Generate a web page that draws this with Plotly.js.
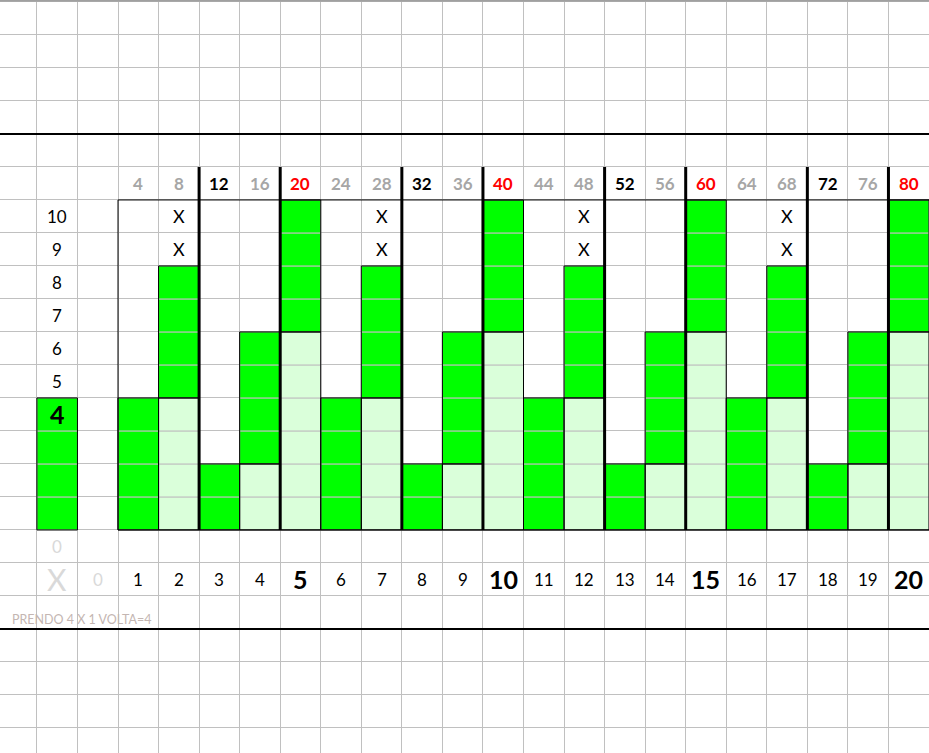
<!DOCTYPE html>
<html>
<head>
<meta charset="utf-8">
<script src="https://cdn.plot.ly/plotly-3.0.1.min.js"></script>
<style>html,body{margin:0;padding:0;background:#fff;}#chart{width:929px;height:753px;}</style>
</head>
<body>
<div id="chart"></div>
<script>
// ---- data ----
const columns = [1,2,3,4,5,6,7,8,9,10,11,12,13,14,15,16,17,18,19,20];
const headerLabels = ['4','8','12','16','20','24','28','32','36','40','44','48','52','56','60','64','68','72','76','80'];
const headerKinds  = ['grey','grey','black','grey','red','grey','grey','black','grey','red','grey','grey','black','grey','red','grey','grey','black','grey','red'];

// bright green blocks (column, base row, height in rows)
const brightCols    = [-1, 1,2,3,4,5, 6,7,8,9,10, 11,12,13,14,15, 16,17,18,19,20];
const brightBases   = [ 0, 0,4,0,2,6, 0,4,0,2,6,  0,4,0,2,6,  0,4,0,2,6];
const brightHeights = [ 4, 4,4,2,4,4, 4,4,2,4,4,  4,4,2,4,4,  4,4,2,4,4];

// light green blocks (column, height from row 0)
const lightCols    = [2,4,5, 7,9,10, 12,14,15, 17,19,20];
const lightHeights = [4,2,6, 4,2,6,  4,2,6,  4,2,6];

// X marks (column, row)
const xMarkCols = [2,2,7,7,12,12,17,17];
const xMarkRows = [9,10,9,10,9,10,9,10];

// left row labels
const rowLabels = ['10','9','8','7','6','5','4'];
const rowLabelRows = [10,9,8,7,6,5,4];

// bottom labels
const bottomCols = [-1,0,1,2,3,4,5,6,7,8,9,10,11,12,13,14,15,16,17,18,19,20];
const bottomLabels = ['X','0','1','2','3','4','5','6','7','8','9','10','11','12','13','14','15','16','17','18','19','20'];
const noteText = 'PRENDO 4 X 1 VOLTA=4';

// ---- build ----
const FONT = 'Lato, "Open Sans", sans-serif';
const BRIGHT = '#00FF00', LIGHT = '#DAFFDA', GRID = '#C0C0C0';
const kindColor = {grey:'#A6A6A6', black:'#000000', red:'#FF0000'};

function cells(colsArr, bases, heights){
  const x=[], b=[];
  colsArr.forEach((c,i)=>{ for(let k=0;k<heights[i];k++){ x.push(c); b.push(bases[i]+k);} });
  return {x, base:b, y:x.map(()=>1)};
}
const bc = cells(brightCols, brightBases, brightHeights);
const lc = cells(lightCols, lightCols.map(()=>0), lightHeights);

const traces = [
  {type:'bar', x:lc.x, y:lc.y, base:lc.base, width:1, marker:{color:LIGHT, line:{color:GRID,width:1}}, hoverinfo:'skip'},
  {type:'bar', x:bc.x, y:bc.y, base:bc.base, width:1, marker:{color:BRIGHT, line:{color:GRID,width:1}}, hoverinfo:'skip'},
  {type:'bar', x:lightCols, y:lightHeights, base:lightCols.map(()=>0), width:1, marker:{color:'rgba(0,0,0,0)', line:{color:'#000',width:1}}, hoverinfo:'skip'},
  {type:'bar', x:brightCols, y:brightHeights, base:brightBases, width:1, marker:{color:'rgba(0,0,0,0)', line:{color:'#000',width:1}}, hoverinfo:'skip'}
];

const ann = [];
columns.forEach((c,i)=>{
  ann.push({x:c, y:10.5, text:headerLabels[i], showarrow:false, font:{family:FONT, size:17, color:kindColor[headerKinds[i]], weight:'bold'}});
});
xMarkCols.forEach((c,i)=>{
  ann.push({x:c, y:xMarkRows[i]-0.5, text:'X', showarrow:false, font:{family:FONT, size:18, color:'#000'}});
});
rowLabels.forEach((t,i)=>{
  const big = t==='4';
  ann.push({x:-1, y:rowLabelRows[i]-0.5, text:t, showarrow:false, font:{family:FONT, size:big?25:17, color:'#000', weight:big?'bold':'normal'}});
});
ann.push({x:-1, y:-0.5, text:'0', showarrow:false, font:{family:FONT, size:17, color:'#D9D9D9'}});
bottomCols.forEach((c,i)=>{
  const t = bottomLabels[i];
  let size=17, color='#000', weight='normal';
  if(t==='X'){size=30; color='#D9D9D9';}
  else if(t==='0'){color='#D9D9D9';}
  else if(Number(t)%5===0){size=25; weight='bold';}
  ann.push({x:c, y:-1.5, text:t, showarrow:false, font:{family:FONT, size:size, color:color, weight:weight}});
});
ann.push({x:-2.17, y:-2.7, xanchor:'left', text:noteText, showarrow:false, font:{family:FONT, size:12.5, color:'#C4B6B2'}});

const shapes = [];
// box around the main area
shapes.push({type:'rect', xref:'x', yref:'y', x0:0.5, x1:21, y0:0, y1:10, line:{color:'#000', width:1}, layer:'above'});
// thick separators before black/red header columns
columns.forEach((c,i)=>{
  if(headerKinds[i]!=='grey'){
    shapes.push({type:'line', xref:'x', yref:'y', x0:c-0.5, x1:c-0.5, y0:0, y1:11, line:{color:'#000', width:3}, layer:'above'});
  }
});
// thick horizontal rules
shapes.push({type:'line', xref:'paper', yref:'y', x0:0, x1:1, y0:12, y1:12, line:{color:'#000', width:2}, layer:'above'});
shapes.push({type:'line', xref:'paper', yref:'y', x0:0, x1:1, y0:-3, y1:-3, line:{color:'#000', width:2}, layer:'above'});
// sheet header border at the very top
shapes.push({type:'line', xref:'paper', yref:'paper', x0:0, x1:1, y0:0.999, y1:0.999, line:{color:'#A0A0A0', width:2}, layer:'above'});

const layout = {
  width:929, height:753,
  margin:{l:0,r:0,t:0,b:0},
  paper_bgcolor:'#fff', plot_bgcolor:'#fff',
  barmode:'overlay', showlegend:false, hovermode:false,
  xaxis:{range:[-2.41,20.5], tick0:0.5, dtick:1, showgrid:true, gridcolor:GRID, gridwidth:1, zeroline:false, showticklabels:false, ticks:'', showline:false, fixedrange:true},
  yaxis:{range:[-6.76,16.06], tick0:0, dtick:1, showgrid:true, gridcolor:GRID, gridwidth:1, zeroline:false, showticklabels:false, ticks:'', showline:false, fixedrange:true},
  annotations:ann, shapes:shapes
};
Plotly.newPlot('chart', traces, layout, {displayModeBar:false, staticPlot:true});
</script>
</body>
</html>
